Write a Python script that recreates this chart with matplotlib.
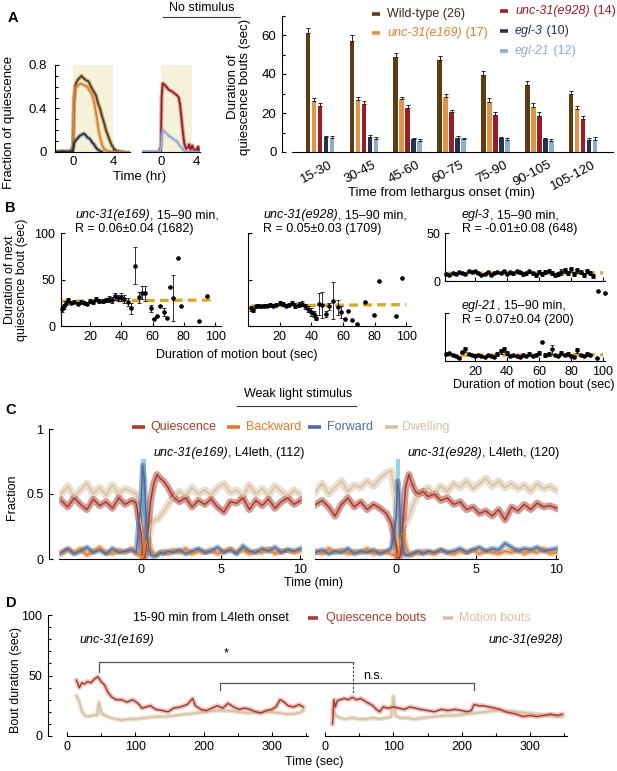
import matplotlib
matplotlib.use('Agg')
import matplotlib.pyplot as plt
from matplotlib.lines import Line2D
from matplotlib.patches import Rectangle
from matplotlib.ticker import MultipleLocator

plt.rcParams['font.family'] = ['Liberation Sans', 'DejaVu Sans']
plt.rcParams['font.size'] = 9
plt.rcParams['axes.linewidth'] = 0.8
plt.rcParams['xtick.major.width'] = 0.8
plt.rcParams['ytick.major.width'] = 0.8
plt.rcParams['xtick.minor.width'] = 0.8
plt.rcParams['ytick.minor.width'] = 0.8
plt.rcParams['xtick.major.size'] = 3
plt.rcParams['ytick.major.size'] = 3
plt.rcParams['xtick.minor.size'] = 2
plt.rcParams['ytick.minor.size'] = 2
plt.rcParams['xtick.direction'] = 'in'
plt.rcParams['ytick.direction'] = 'in'

# ---------------- DATA ----------------
# Panel A left: fraction of quiescence vs time (hr)
tA_wt = [-1.8, -1.0, -0.3, 0.0, 0.1, 0.25, 0.45, 0.65, 0.85, 1.05, 1.3, 1.55, 1.8, 2.05, 2.3, 2.5, 2.7, 2.9, 3.1, 3.3, 3.5, 3.7, 3.9, 4.1, 4.4, 5.0]
fq_wt = [0.0, 0.01, 0.0, 0.04, 0.45, 0.62, 0.66, 0.68, 0.70, 0.68, 0.66, 0.65, 0.60, 0.56, 0.52, 0.45, 0.40, 0.33, 0.27, 0.20, 0.15, 0.10, 0.06, 0.03, 0.01, 0.0]
tA_e169 = [-1.8, -1.0, -0.3, 0.0, 0.08, 0.2, 0.4, 0.6, 0.8, 1.0, 1.2, 1.4, 1.6, 1.8, 2.0, 2.15, 2.3, 2.45, 2.6, 2.75, 2.9, 3.1, 3.4, 4.0, 5.0, 5.7]
fq_e169 = [0.0, 0.0, 0.01, 0.05, 0.50, 0.59, 0.60, 0.62, 0.63, 0.62, 0.61, 0.60, 0.57, 0.55, 0.50, 0.44, 0.36, 0.27, 0.18, 0.12, 0.07, 0.03, 0.01, 0.0, 0.0, 0.0]
tA_egl3 = [-1.8, -0.5, 0.0, 0.1, 0.3, 0.5, 0.7, 0.9, 1.1, 1.3, 1.5, 1.7, 1.9, 2.1, 2.3, 2.5, 2.7, 2.9]
fq_egl3 = [0.0, 0.0, 0.01, 0.08, 0.11, 0.13, 0.15, 0.16, 0.17, 0.15, 0.13, 0.12, 0.09, 0.07, 0.04, 0.02, 0.01, 0.0]
# Panel A middle
tA_e928 = [-2.1, -1.0, -0.2, 0.0, 0.08, 0.2, 0.4, 0.6, 0.9, 1.2, 1.5, 1.8, 2.0, 2.15, 2.3, 2.45, 2.6, 2.8, 3.0, 3.15, 3.3, 3.5, 3.65, 3.8, 4.0, 4.15, 4.3]
fq_e928 = [0.0, 0.0, 0.0, 0.05, 0.50, 0.63, 0.62, 0.60, 0.57, 0.56, 0.54, 0.52, 0.50, 0.42, 0.30, 0.18, 0.08, 0.03, 0.04, 0.07, 0.02, 0.06, 0.02, 0.01, 0.03, 0.05, 0.0]
tA_egl21 = [-2.1, -1.0, -0.2, 0.0, 0.1, 0.25, 0.5, 0.75, 1.0, 1.25, 1.5, 1.75, 2.0, 2.3, 2.6, 3.0, 3.5, 4.3]
fq_egl21 = [0.0, 0.0, 0.0, 0.02, 0.15, 0.20, 0.18, 0.16, 0.14, 0.13, 0.11, 0.10, 0.07, 0.04, 0.01, 0.0, 0.0, 0.0]

# Panel A right: bar chart
bar_groups = ['15-30', '30-45', '45-60', '60-75', '75-90', '90-105', '105-120']
bar_series = ['Wild-type', 'unc-31(e169)', 'unc-31(e928)', 'egl-3', 'egl-21']
bar_counts = ['(26)', '(17)', '(14)', '(10)', '(12)']
bar_wt = [61, 57, 48.5, 47, 39.5, 34.5, 29.5]
bar_e169 = [26, 26.5, 27, 28, 25.5, 23, 22]
bar_e928 = [23.5, 24.5, 22.5, 20.5, 19, 18.5, 17]
bar_egl3 = [7.5, 7.5, 6.5, 7, 7, 6.5, 6]
bar_egl21 = [7, 6.5, 5.5, 6.5, 6, 5.5, 6]
err_wt = [2.5, 3, 2.3, 2.3, 2, 1.8, 1.8]
err_e169 = [1.5, 1.8, 1.4, 2, 2, 2, 1.8]
err_e928 = [1.4, 1.8, 1.7, 1.2, 1.5, 1.8, 1.6]
err_egl3 = [0.9, 1, 0.8, 1, 0.8, 0.8, 1]
err_egl21 = [1.2, 1.2, 1, 0.9, 1, 1.3, 1.7]

# Panel B: duration of next quiescence bout vs motion bout
bx_e169 = [2, 3, 4.5, 6, 8, 10, 12, 14, 16, 18, 20, 22, 24, 26, 28, 30, 32, 34, 36, 38, 40, 42, 44, 46, 49, 51, 53, 55, 59, 61, 63, 65, 67, 69, 71, 73, 76, 78, 90, 95]
by_e169 = [18, 21, 25, 28, 25, 26, 24, 26, 25, 24, 27, 26, 29, 27, 27, 28, 29, 28, 32, 30, 31, 29, 26, 19, 65, 31, 36, 35, 19, 8, 11, 22, 15, 9, 42, 30, 73, 22, 5, 32]
be_e169 = [3, 3, 2, 2, 1.5, 1.5, 1.5, 1.5, 1.5, 1.5, 2, 2, 2, 2, 2, 2.5, 3, 3, 4, 3, 4, 4, 4, 6, 20, 6, 7, 8, 4, 0, 0, 0, 4, 0, 0, 25, 0, 0, 0, 0]
fit_x = [2, 100]
fit_e169 = [26.5, 28]
bx_e928 = [2, 3, 5, 6.5, 8, 10, 12, 14, 16, 18, 20, 22, 24, 26, 28, 30, 32, 34, 36, 38, 40, 41.5, 43, 45, 47, 49, 51, 54, 57, 59, 61, 63, 66, 69, 74, 79.5, 83, 93.5, 97]
by_e928 = [19, 17, 21, 22, 21, 22, 22, 23, 22, 23, 25, 24, 22, 23, 25, 22, 23, 24, 21, 18, 15, 13, 9, 24, 23, 13, 21, 27, 20, 15, 8, 16, 6, 2, 26, 12, 48, 11, 52]
be_e928 = [3, 2, 1.5, 1.5, 1.5, 1.5, 1.5, 1.5, 1.5, 2, 2, 2, 2, 2, 2, 2.5, 3, 3, 3, 3, 4, 3, 3, 12, 14, 3, 4, 20, 8, 6, 0, 0, 0, 0, 0, 0, 0, 0, 0]
fit_e928 = [21.5, 23]
bx_egl3 = [2, 4, 6, 8, 10, 12, 14, 16, 18, 20, 22, 24, 26, 28, 30, 32, 34, 36, 38, 40, 42, 44, 46, 48, 50, 52, 54, 56, 58, 60, 62, 64, 66, 68, 70, 72, 74, 76, 78, 80, 82, 84, 86, 88, 90, 92, 94, 97, 101]
by_egl3 = [7, 6, 8, 7, 9, 8, 7, 10, 9, 10, 8, 6, 7, 9, 6, 8, 9, 8, 10, 7, 9, 8, 10, 9, 7, 8, 10, 8, 6, 9, 7, 9, 10, 8, 6, 7, 9, 11, 8, 12, 7, 11, 9, 6, 10, 8, 5, -10, -12]
be_egl3 = [1, 1, 1, 1, 1, 1, 1, 1, 1, 1, 1, 1, 1, 1, 1, 1, 1, 1, 1, 1, 1.5, 1.5, 1.5, 1.5, 1.5, 1.5, 1.5, 1.5, 1.5, 2, 2, 2, 2, 2, 2, 2, 3, 3, 2, 3, 2, 3, 2, 2, 2, 2, 2, 0, 0]
fit_egl3 = [8, 8.5]
bx_egl21 = [2, 4, 6, 8, 10, 12, 14, 16, 18, 20, 22, 24, 26, 28, 30, 32, 34, 36, 38, 40, 42, 44, 46, 48, 50, 52, 54, 56, 58, 60, 62, 64, 66, 68, 70, 72, 74, 76, 78, 80, 82, 84, 86, 88, 90, 92, 96]
by_egl21 = [7, 8, 6, 5, 3, 9, 12, 7, 6, 5, 6, 5, 4, 6, 5, 4, 7, 10, 12, 8, 5, 6, 5, 4, 6, 5, 7, 5, 6, 8, 20, 6, 7, 12, 6, 5, 8, 6, 7, 5, 4, 11, 6, 5, 7, 6, 3]
be_egl21 = [1, 1, 1, 1, 1, 1, 3, 1, 1, 1, 1, 1, 1, 1, 1, 1, 2, 3, 3, 2, 1, 1, 1, 1, 1, 1, 2, 1, 1, 2, 0, 2, 2, 5, 1, 1, 2, 1, 2, 1, 1, 3, 1, 1, 2, 1, 0]
fit_egl21 = [6, 6.5]

# Panel C: fraction of behavioural states around weak light stimulus (min)
tC = [-5, -4.6, -4.2, -3.8, -3.4, -3.0, -2.6, -2.2, -1.8, -1.4, -1.0, -0.6, -0.3, 0.0, 0.1, 0.2, 0.3, 0.45, 0.6, 0.8, 1.0, 1.2, 1.4, 1.7, 2.0, 2.4, 2.8, 3.2, 3.6, 4.0, 4.4, 4.8, 5.2, 5.6, 6.0, 6.4, 6.8, 7.2, 7.6, 8.0, 8.4, 8.8, 9.2, 9.6, 10.0]
q_e169 = [0.45, 0.40, 0.47, 0.42, 0.38, 0.46, 0.41, 0.44, 0.39, 0.47, 0.42, 0.45, 0.43, 0.20, 0.03, 0.01, 0.05, 0.25, 0.45, 0.58, 0.65, 0.62, 0.60, 0.55, 0.48, 0.44, 0.47, 0.40, 0.45, 0.42, 0.46, 0.40, 0.36, 0.44, 0.43, 0.47, 0.38, 0.45, 0.41, 0.46, 0.39, 0.44, 0.47, 0.42, 0.45]
d_e169 = [0.50, 0.56, 0.48, 0.53, 0.58, 0.50, 0.55, 0.49, 0.57, 0.50, 0.54, 0.52, 0.50, 0.25, 0.05, 0.02, 0.05, 0.15, 0.25, 0.30, 0.30, 0.33, 0.36, 0.42, 0.47, 0.52, 0.48, 0.55, 0.50, 0.53, 0.49, 0.55, 0.58, 0.51, 0.53, 0.48, 0.57, 0.50, 0.54, 0.49, 0.56, 0.52, 0.48, 0.53, 0.50]
f_e169 = [0.05, 0.08, 0.04, 0.06, 0.09, 0.05, 0.07, 0.04, 0.08, 0.05, 0.06, 0.07, 0.05, 0.45, 0.72, 0.62, 0.35, 0.10, 0.03, 0.02, 0.03, 0.05, 0.04, 0.06, 0.05, 0.07, 0.04, 0.06, 0.08, 0.05, 0.06, 0.09, 0.05, 0.07, 0.04, 0.10, 0.06, 0.05, 0.08, 0.06, 0.09, 0.05, 0.07, 0.06, 0.08]
b_e169 = [0.04, 0.07, 0.05, 0.08, 0.03, 0.06, 0.09, 0.05, 0.04, 0.07, 0.05, 0.08, 0.04, 0.02, 0.01, 0.05, 0.12, 0.16, 0.08, 0.04, 0.03, 0.05, 0.06, 0.04, 0.07, 0.05, 0.08, 0.04, 0.06, 0.05, 0.07, 0.04, 0.06, 0.08, 0.05, 0.07, 0.04, 0.06, 0.05, 0.08, 0.04, 0.06, 0.07, 0.05, 0.06]
q_e928 = [0.42, 0.45, 0.40, 0.33, 0.42, 0.47, 0.40, 0.44, 0.38, 0.42, 0.39, 0.35, 0.28, 0.10, 0.02, 0.01, 0.03, 0.30, 0.55, 0.65, 0.58, 0.52, 0.50, 0.52, 0.48, 0.50, 0.45, 0.47, 0.42, 0.44, 0.38, 0.40, 0.35, 0.37, 0.33, 0.38, 0.30, 0.40, 0.37, 0.42, 0.38, 0.43, 0.40, 0.41, 0.39]
d_e928 = [0.52, 0.58, 0.50, 0.55, 0.60, 0.52, 0.57, 0.55, 0.60, 0.56, 0.62, 0.66, 0.68, 0.45, 0.15, 0.08, 0.15, 0.25, 0.28, 0.32, 0.40, 0.45, 0.50, 0.52, 0.55, 0.50, 0.56, 0.52, 0.58, 0.55, 0.60, 0.54, 0.58, 0.62, 0.56, 0.60, 0.55, 0.58, 0.54, 0.57, 0.52, 0.58, 0.54, 0.56, 0.53]
f_e928 = [0.05, 0.07, 0.04, 0.06, 0.05, 0.08, 0.04, 0.06, 0.05, 0.07, 0.04, 0.06, 0.08, 0.30, 0.60, 0.50, 0.20, 0.06, 0.03, 0.03, 0.04, 0.05, 0.06, 0.04, 0.06, 0.05, 0.07, 0.05, 0.06, 0.08, 0.05, 0.07, 0.09, 0.06, 0.08, 0.07, 0.12, 0.09, 0.06, 0.08, 0.07, 0.09, 0.06, 0.07, 0.08]
b_e928 = [0.06, 0.04, 0.08, 0.05, 0.07, 0.04, 0.06, 0.05, 0.08, 0.04, 0.06, 0.05, 0.04, 0.02, 0.02, 0.08, 0.18, 0.20, 0.10, 0.04, 0.03, 0.05, 0.04, 0.06, 0.05, 0.04, 0.07, 0.05, 0.04, 0.06, 0.05, 0.07, 0.04, 0.06, 0.05, 0.04, 0.06, 0.05, 0.07, 0.04, 0.06, 0.05, 0.08, 0.04, 0.05]
stim_on, stim_off, stim_h = 0.0, 0.28, 0.77

# Panel D: bout durations (sec)
tD_q1 = [14, 18, 22, 26, 30, 35, 40, 45, 50, 55, 60, 66, 72, 80, 88, 96, 104, 110, 116, 122, 130, 140, 148, 156, 166, 176, 184, 188, 196, 204, 212, 220, 228, 236, 244, 252, 260, 268, 276, 284, 292, 300, 306, 312, 318, 324, 332, 340, 346]
dq1 = [46, 40, 44, 43, 45, 44, 47, 49, 45, 42, 36, 32, 30, 30, 28, 30, 27, 23, 24, 25, 22, 21, 20, 23, 24, 26, 31, 25, 22, 21, 23, 25, 23, 27, 24, 22, 23, 22, 20, 19, 21, 22, 24, 30, 28, 25, 24, 26, 24]
tD_m1 = [14, 18, 22, 26, 31, 38, 44, 47, 50, 56, 64, 72, 80, 90, 100, 115, 130, 145, 160, 175, 190, 205, 220, 235, 250, 265, 280, 295, 310, 325, 340, 346]
dm1 = [33, 28, 20, 17, 16, 17, 17, 28, 19, 17, 15, 14, 13, 14, 14, 15, 16, 16, 17, 18, 19, 20, 21, 21, 20, 19, 20, 20, 19, 18, 19, 21]
tD_q2 = [11, 13, 15, 18, 22, 28, 34, 40, 46, 52, 58, 64, 70, 75, 80, 85, 92, 100, 108, 116, 124, 132, 140, 150, 160, 170, 180, 190, 200, 208, 214, 218, 225, 232, 240, 248, 256, 264, 272, 280, 290, 300, 310, 320, 330, 340, 347]
dq2 = [10, 30, 24, 29, 30, 31, 30, 32, 30, 31, 29, 27, 25, 22, 20, 24, 23, 24, 23, 22, 24, 23, 22, 21, 20, 22, 21, 22, 21, 20, 21, 26, 25, 25, 24, 23, 22, 20, 19, 18, 16, 17, 16, 17, 18, 17, 18]
tD_m2 = [12, 16, 22, 30, 40, 50, 60, 70, 80, 90, 97, 100, 103, 110, 120, 130, 145, 160, 175, 190, 205, 220, 235, 250, 265, 280, 295, 310, 325, 340, 347]
dm2 = [21, 17, 15, 14, 15, 14, 14, 15, 14, 15, 16, 33, 17, 15, 15, 14, 15, 16, 17, 17, 18, 19, 20, 21, 21, 20, 19, 18, 17, 16, 16]

# ---------------- COLOURS ----------------
c_wt = '#5d3c12'
c_e169 = '#d9822f'
c_e169_bar = '#e09448'
c_e928 = '#9b1d24'
c_egl3 = '#23324f'
c_egl21 = '#8eaad6'
c_q = '#a93a2c'
c_b = '#e27c2c'
c_f = '#4c6d9f'
c_d = '#d8c1a2'
c_fit = '#d9a62c'

W, H = 617, 771
fig = plt.figure(figsize=(W / 100, H / 100), dpi=100)
renderer = fig.canvas.get_renderer()


def add_ax(x0, y0, x1, y1):
    return fig.add_axes([x0 / W, 1 - y1 / H, (x1 - x0) / W, (y1 - y0) / H])


def ftext(x, y, s, **kw):
    kw.setdefault('va', 'center')
    return fig.text(x / W, 1 - y / H, s, **kw)


def fline(xs, ys, **kw):
    fig.add_artist(Line2D([x / W for x in xs], [1 - y / H for y in ys],
                          transform=fig.transFigure, **kw))


def rich(x, y, parts, ha='left', fs=9, color='black'):
    items = []
    for s, style in parts:
        t = fig.text(0, 0, s, fontsize=fs, color=color, fontstyle=style,
                     va='center', ha='left')
        w = t.get_window_extent(renderer).width
        items.append((t, w))
    total = sum(w for _, w in items)
    x0 = x - total if ha == 'right' else (x - total / 2 if ha == 'center' else x)
    for t, w in items:
        t.set_position((x0 / W, 1 - y / H))
        x0 += w


def clean(ax, left=True):
    ax.spines['top'].set_visible(False)
    ax.spines['right'].set_visible(False)
    if not left:
        ax.spines['left'].set_visible(False)
        ax.set_yticks([])
    ax.patch.set_alpha(0)


# ---------------- PANEL A ----------------
ftext(8, 18, 'A', fontsize=10.5, fontweight='bold')
ftext(202, 8, 'No stimulus', ha='center')
fline([163, 240], [17, 17], color='#333333', lw=0.8)

axA1 = add_ax(55, 65, 130, 152)
axA1.add_patch(Rectangle((0, 0), 4, 0.8, color='#f6f2da', lw=0, zorder=0))
for tt, vv, cc in [(tA_wt, fq_wt, c_wt), (tA_e169, fq_e169, c_e169), (tA_egl3, fq_egl3, c_egl3)]:
    axA1.plot(tt, vv, color=cc, lw=3, alpha=0.35, solid_joinstyle='round')
    axA1.plot(tt, vv, color=cc, lw=1.3)
axA1.set_xlim(-1.8, 5.7)
axA1.set_ylim(0, 0.8)
clean(axA1)
axA1.set_yticks([0, 0.4, 0.8])
axA1.set_yticklabels(['0', '0.4', '0.8'], fontsize=9.5)
axA1.yaxis.set_minor_locator(MultipleLocator(0.1))
axA1.set_xticks([0, 4])
axA1.set_xticklabels(['0', '4'], fontsize=9.5)
axA1.tick_params(axis='y', pad=6)
axA1.tick_params(axis='x', pad=3)

axA2 = add_ax(142, 65, 200, 152)
axA2.add_patch(Rectangle((0, 0), 3.5, 0.8, color='#f6f2da', lw=0, zorder=0))
for tt, vv, cc in [(tA_e928, fq_e928, c_e928), (tA_egl21, fq_egl21, c_egl21)]:
    axA2.plot(tt, vv, color=cc, lw=3, alpha=0.35)
    axA2.plot(tt, vv, color=cc, lw=1.3)
axA2.set_xlim(-2.1, 4.35)
axA2.set_ylim(0, 0.8)
clean(axA2, left=False)
axA2.set_xticks([0, 4])
axA2.set_xticklabels(['0', '4'], fontsize=9.5)
axA2.tick_params(axis='x', pad=3)

ftext(140, 177, 'Time (hr)', ha='center', fontsize=9.5)
ftext(9, 122, 'Fraction of quiescence', ha='center', rotation=90, fontsize=9.5)

# bar chart
axB = add_ax(292, 15.5, 613, 152)
offs = [-0.274, -0.137, 0.0, 0.137, 0.274]
vals = [bar_wt, bar_e169, bar_e928, bar_egl3, bar_egl21]
errs = [err_wt, err_e169, err_e928, err_egl3, err_egl21]
bcols = [c_wt, c_e169_bar, c_e928, c_egl3, c_egl21]
gx = list(range(len(bar_groups)))
for j in range(5):
    xs = [g + offs[j] for g in gx]
    axB.bar(xs, vals[j], width=0.105, color=bcols[j], lw=0, zorder=2)
    axB.errorbar(xs, vals[j], yerr=[[0] * len(gx), errs[j]], fmt='none',
                 ecolor='#222222', elinewidth=0.7, capsize=1.3, capthick=0.7, zorder=3)
axB.set_xlim(-0.64, 6.68)
axB.set_ylim(0, 70)
clean(axB)
axB.spines['left'].set_position(('outward', 7.2))
axB.spines['left'].set_bounds(0, 70)
axB.set_yticks([0, 20, 40, 60])
axB.set_yticklabels(['0', '20', '40', '60'], fontsize=9.5)
axB.yaxis.set_minor_locator(MultipleLocator(10))
axB.tick_params(axis='y', which='both', direction='in', pad=4)
axB.set_xticks([g + 0.2 for g in gx])
axB.set_xticklabels(bar_groups, rotation=28, ha='right', va='top',
                    rotation_mode='anchor', fontsize=9.5)
axB.tick_params(axis='x', length=0, pad=5)
ftext(441, 193, 'Time from lethargus onset (min)', ha='center', fontsize=9.5)
ftext(239, 87, 'Duration of\nquiescence bouts (sec)', ha='center',
      rotation=90, fontsize=9.5, linespacing=1.1)

# legend A
leg_pos = [(372, 14), (372, 33), (500, 11), (500, 31), (500, 51)]
leg_tcol = ['#3a2a18', c_e169, c_e928, c_egl3, c_egl21]
for j in range(5):
    lx, ly = leg_pos[j]
    fline([lx, lx + 8], [ly, ly], color=bcols[j], lw=2.6, solid_capstyle='butt')
    if j == 0:
        rich(lx + 15, ly, [(bar_series[j] + ' ' + bar_counts[j], 'normal')], color=leg_tcol[j], fs=9)
    else:
        rich(lx + 15, ly, [(bar_series[j], 'italic'), (' ' + bar_counts[j], 'normal')],
             color=leg_tcol[j], fs=9)

# ---------------- PANEL B ----------------
ftext(5, 208, 'B', fontsize=10.5, fontweight='bold')


def scatter_panel(ax, bx, by, be, fit_y):
    ax.plot(fit_x, fit_y, color=c_fit, lw=2.4, dashes=(2.6, 1.6), zorder=1)
    ax.errorbar(bx, by, yerr=be, fmt='o', ms=2.3, color='black', ecolor='#111111',
                elinewidth=0.6, capsize=1.2, capthick=0.6, zorder=2, clip_on=False)


axBl = add_ax(61, 233, 221, 326)
scatter_panel(axBl, bx_e169, by_e169, be_e169, fit_e169)
axBl.set_xlim(1.4, 103.8)
axBl.set_ylim(0, 100)
clean(axBl)
axBl.set_yticks([0, 50, 100])
axBl.set_yticklabels(['0', '50', '100'])
axBl.set_xticks([20, 40, 60, 80, 100])
axBl.tick_params(axis='y', pad=4)

axBm = add_ax(248, 233, 411, 326)
scatter_panel(axBm, bx_e928, by_e928, be_e928, fit_e928)
axBm.set_xlim(0, 103)
axBm.set_ylim(0, 100)
clean(axBm)
axBm.set_yticks([0, 50, 100])
axBm.set_yticklabels([])
axBm.set_xticks([20, 40, 60, 80, 100])

axBr1 = add_ax(445, 233, 605, 281)
scatter_panel(axBr1, bx_egl3, by_egl3, be_egl3, fit_egl3)
axBr1.set_xlim(1.25, 101.25)
axBr1.set_ylim(0, 50)
clean(axBr1)
axBr1.set_yticks([0, 50])
axBr1.set_yticklabels(['0', '50'])
axBr1.set_xticks([20, 40, 60, 80, 100])
axBr1.set_xticklabels([])

axBr2 = add_ax(445, 313, 605, 361)
scatter_panel(axBr2, bx_egl21, by_egl21, be_egl21, fit_egl21)
axBr2.set_xlim(1.25, 101.25)
axBr2.set_ylim(0, 50)
clean(axBr2)
axBr2.set_yticks([0, 50])
axBr2.set_yticklabels([])
axBr2.set_xticks([20, 40, 60, 80, 100])

rich(75, 215, [('unc-31(e169)', 'italic'), (', 15\u201390 min,', 'normal')])
rich(75, 229, [('R = 0.06\u00b10.04 (1682)', 'normal')])
rich(263, 215, [('unc-31(e928)', 'italic'), (', 15\u201390 min,', 'normal')])
rich(263, 229, [('R = 0.05\u00b10.03 (1709)', 'normal')])
rich(462, 215, [('egl-3', 'italic'), (', 15\u201390 min,', 'normal')])
rich(462, 229, [('R = -0.01\u00b10.08 (648)', 'normal')])
rich(462, 306, [('egl-21', 'italic'), (', 15\u201390 min,', 'normal')])
rich(462, 320, [('R = 0.07\u00b10.04 (200)', 'normal')])
ftext(237, 355, 'Duration of motion bout (sec)', ha='center')
ftext(534, 385, 'Duration of motion bout (sec)', ha='center')
ftext(16, 280, 'Duration of next\nquiescence bout (sec)', ha='center', rotation=90, linespacing=1.1)

# ---------------- PANEL C ----------------
ftext(5, 410, 'C', fontsize=10.5, fontweight='bold')
ftext(298, 394, 'Weak light stimulus', ha='center')
fline([237, 356], [406, 406], color='#333333', lw=0.8)


def state_panel(ax, q, d, f, b):
    ax.add_patch(Rectangle((stim_on, 0), stim_off - stim_on, stim_h, color='#98d4e4', lw=0, zorder=1))
    for vv, cc, bw in [(d, c_d, 5.5), (q, c_q, 5.0), (b, c_b, 4.0), (f, c_f, 4.0)]:
        ax.plot(tC, vv, color=cc, lw=bw, alpha=0.5, zorder=2)
        ax.plot(tC, vv, color=cc, lw=1.1, zorder=3)
    ax.set_xlim(-5.15, 10.1)
    ax.set_ylim(0, 1)
    ax.set_xticks([0, 5, 10])


axCl = add_ax(59, 429, 302, 559)
state_panel(axCl, q_e169, d_e169, f_e169, b_e169)
clean(axCl)
axCl.spines['left'].set_position(('outward', 7.2))
axCl.set_yticks([0, 0.5, 1])
axCl.set_yticklabels(['0', '0.5', '1'])
axCl.tick_params(axis='y', pad=4)

axCr = add_ax(315, 429, 558, 559)
state_panel(axCr, q_e928, d_e928, f_e928, b_e928)
axCr.set_xlim(-5.05, 10.1)
clean(axCr, left=False)

rich(304, 453, [('unc-31(e169)', 'italic'), (', L4leth, (112)', 'normal')], ha='right')
rich(559, 453, [('unc-31(e928)', 'italic'), (', L4leth, (120)', 'normal')], ha='right')
for mx, tx, lab, cc in [(132, 150, 'Quiescence', c_q), (227, 246, 'Backward', c_b),
                        (308, 327, 'Forward', c_f), (385, 402, 'Dwelling', c_d)]:
    fline([mx, mx + 13], [427, 427], color=cc, lw=2.6, solid_capstyle='butt')
    ftext(tx, 427, lab, color=cc)
ftext(313, 583, 'Time (min)', ha='center')
ftext(12, 497, 'Fraction', ha='center', rotation=90)

# ---------------- PANEL D ----------------
ftext(6, 603, 'D', fontsize=10.5, fontweight='bold')


def bout_panel(ax, tq, q, tm, m):
    ax.plot(tm, m, color=c_d, lw=3.2, alpha=0.55, zorder=2)
    ax.plot(tm, m, color=c_d, lw=1.1, zorder=3)
    ax.plot(tq, q, color='#dba49e', lw=3.6, alpha=0.6, zorder=4)
    ax.plot(tq, q, color=c_q, lw=1.1, zorder=5)
    ax.set_ylim(0, 100)
    ax.set_xticks([0, 100, 200, 300])
    ax.xaxis.set_minor_locator(MultipleLocator(50))


axDl = add_ax(67, 615, 308, 736)
bout_panel(axDl, tD_q1, dq1, tD_m1, dm1)
axDl.set_xlim(0, 353)
clean(axDl)
axDl.spines['left'].set_position(('outward', 13.7))
axDl.set_yticks([0, 50, 100])
axDl.set_yticklabels(['0', '50', '100'])
axDl.yaxis.set_minor_locator(MultipleLocator(10))
axDl.tick_params(axis='y', pad=4)

axDr = add_ax(325, 615, 567, 736)
bout_panel(axDr, tD_q2, dq2, tD_m2, dm2)
axDr.set_xlim(0, 354)
clean(axDr, left=False)

ftext(133, 618, '15-90 min from L4leth onset')
fline([308, 318], [618, 618], color=c_q, lw=2.6, solid_capstyle='butt')
ftext(326, 618, 'Quiescence bouts', color=c_q)
fline([443, 453], [618, 618], color=c_d, lw=2.6, solid_capstyle='butt')
ftext(459, 618, 'Motion bouts', color=c_d)
rich(79, 640, [('unc-31(e169)', 'italic')])
rich(563, 640, [('unc-31(e928)', 'italic')], ha='right')

bc = '#555555'
fline([99, 99, 353], [672, 662, 662], color=bc, lw=0.9)
fline([353, 353], [662, 693], color=bc, lw=0.9, ls=(0, (2, 1.2)))
ftext(226, 653, '*', ha='center')
fline([220, 220, 474, 474], [690, 683, 683, 690], color=bc, lw=0.9)
ftext(373, 676, 'n.s.', ha='center')

ftext(314, 762, 'Time (sec)', ha='center')
ftext(16, 680, 'Bout duration (sec)', ha='center', rotation=90)

fig.savefig('out.png', dpi=100)
